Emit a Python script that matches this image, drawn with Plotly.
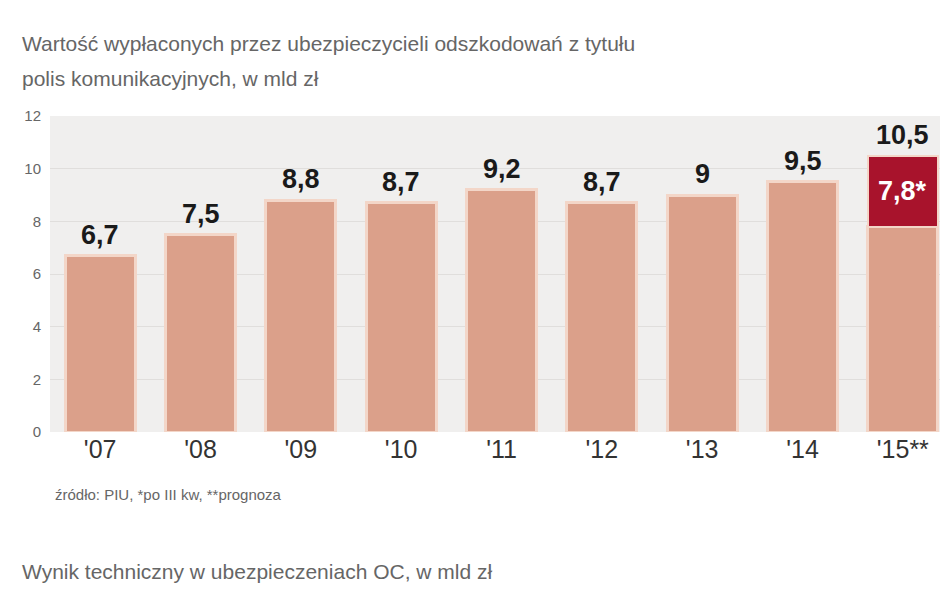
import plotly.graph_objects as go

lata = ["'07", "'08", "'09", "'10", "'11", "'12", "'13", "'14", "'15**"]
wartosci = [6.7, 7.5, 8.8, 8.7, 9.2, 8.7, 9.0, 9.5, 7.8]
prognoza = [0, 0, 0, 0, 0, 0, 0, 0, 2.7]
etykiety = ["6,7", "7,5", "8,8", "8,7", "9,2", "8,7", "9", "9,5", "10,5"]
y_ticki = [0, 2, 4, 6, 8, 10, 12]

FONT = "Liberation Sans Narrow, Liberation Sans, Arial"
razem = [a + b for a, b in zip(wartosci, prognoza)]

W, H = 948, 593
L, R, T, B = 42, 3, 108, 169

fig = go.Figure()
fig.add_trace(go.Bar(
    x=lata, y=wartosci, marker_color="#DBA08A",
    marker_line_color="#F3D6C8", marker_line_width=3,
))
fig.add_trace(go.Bar(
    x=lata, y=prognoza, marker_color="#A8132C",
    marker_line_color="#F3D6C8", marker_line_width=2,
))

for x, y, t in zip(lata, razem, etykiety):
    fig.add_annotation(x=x, y=y, text="<b>" + t + "</b>", showarrow=False,
                       yanchor="bottom", yshift=4,
                       font=dict(size=27, color="#1a1a1a", family=FONT))
fig.add_annotation(x=lata[-1], y=wartosci[-1] + prognoza[-1] / 2, text="<b>7,8*</b>",
                   showarrow=False, font=dict(size=27, color="white", family=FONT))


def px_to_paper(x, y):
    # piksele strony -> współrzędne paper (względem obszaru wykresu)
    return (x - L) / (W - L - R), (H - B - y) / (H - T - B)


teksty = [
    (12, 35, "Wartość wypłaconych przez ubezpieczycieli odszkodowań z tytułu", 21, "#666"),
    (12, 70, "polis komunikacyjnych, w mld zł", 21, "#666"),
    (45, 486, "źródło: PIU, *po III kw, **prognoza", 15, "#666"),
    (12, 563, "Wynik techniczny w ubezpieczeniach OC, w mld zł", 21, "#666"),
]
for x, y, t, s, c in teksty:
    px_, py_ = px_to_paper(x, y)
    fig.add_annotation(x=px_, y=py_, xref="paper", yref="paper",
                       text=t, showarrow=False, xanchor="left", yanchor="middle",
                       font=dict(size=s, color=c, family=FONT))
px_, py_ = px_to_paper(60, 600)
fig.add_annotation(x=px_, y=py_, xref="paper", yref="paper",
                   text="<b>0,00</b>", showarrow=False, xanchor="left",
                   yanchor="middle", font=dict(size=24, color="#222", family=FONT))

fig.update_layout(
    width=W, height=H, barmode="stack", bargap=0.3, showlegend=False,
    margin=dict(l=L, r=R, t=T, b=B),
    paper_bgcolor="white", plot_bgcolor="#F0EFEE",
    xaxis=dict(tickfont=dict(size=25, color="#333", family=FONT), ticks="",
               showgrid=False),
    yaxis=dict(range=[0, 12], tickvals=y_ticki, showgrid=True, gridcolor="#E0DEDC",
               tickfont=dict(size=15, color="#666", family=FONT), zeroline=False,
               ticklabelstandoff=8),
)
fig.write_html("out.html")
